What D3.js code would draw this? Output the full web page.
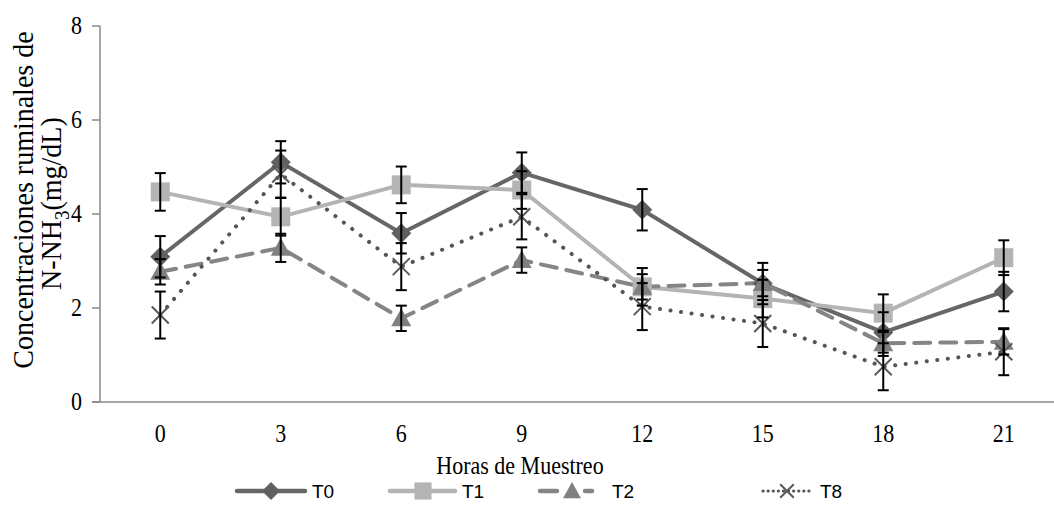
<!DOCTYPE html>
<html>
<head>
<meta charset="utf-8">
<script src="https://cdn.jsdelivr.net/npm/d3@7"></script>
<style>
  body { margin: 0; background: #fff; }
  svg { display: block; }
</style>
</head>
<body>
<svg id="chart" width="1054" height="529"></svg>
<script>
const hours = [0, 3, 6, 9, 12, 15, 18, 21]
const t0 = [3.09, 5.10, 3.59, 4.88, 4.09, 2.52, 1.48, 2.35]
const t1 = [4.47, 3.94, 4.62, 4.51, 2.45, 2.20, 1.89, 3.07]
const t2 = [2.77, 3.28, 1.78, 3.02, 2.45, 2.53, 1.25, 1.28]
const t8 = [1.85, 4.85, 2.88, 3.94, 2.03, 1.67, 0.75, 1.07]
const t0Err = [0.44, 0.45, 0.43, 0.43, 0.44, 0.44, 0.43, 0.42]
const t1Err = [0.40, 0.40, 0.39, 0.40, 0.40, 0.40, 0.40, 0.37]
const t2Err = [0.27, 0.30, 0.27, 0.27, 0.27, 0.28, 0.27, 0.27]
const t8Err = [0.50, 0.50, 0.50, 0.48, 0.50, 0.50, 0.50, 0.50]
const yTicks = [0, 2, 4, 6, 8]
const seriesNames = ['T0', 'T1', 'T2', 'T8']

const series = [
  { name: seriesNames[0], values: t0, err: t0Err, color: '#666666', marker: '#606060', symbol: 'diamond', dash: null, width: 4,
    leg: { x1: 237, x2: 305, m: 271, tx: 312, dash: null } },
  { name: seriesNames[1], values: t1, err: t1Err, color: '#b4b4b4', marker: '#b4b4b4', symbol: 'square', dash: null, width: 4,
    leg: { x1: 390, x2: 455, m: 423, tx: 462, dash: null } },
  { name: seriesNames[2], values: t2, err: t2Err, color: '#858585', marker: '#808080', symbol: 'triangle', dash: '16,10', width: 4,
    leg: { x1: 540, x2: 592, m: 572, tx: 612, dash: '17,28' } },
  { name: seriesNames[3], values: t8, err: t8Err, color: '#555555', marker: '#595959', symbol: 'x', dash: '0.1,10.5', width: 4,
    leg: { x1: 763, x2: 813, m: 787, tx: 820, dash: '0.1,5' } }
]

const svg = d3.select('#chart')
const axisColor = '#898989'
const serif = '"Liberation Serif", "Times New Roman", serif'

const x = d3.scaleBand().domain(hours).range([100, 1064]).padding(0)
const cx = h => x(h) + x.bandwidth() / 2
const y = d3.scaleLinear().domain([0, 8]).range([402, 26])

// axes
svg.append('line')
  .attr('x1', 100).attr('x2', 100).attr('y1', y(8)).attr('y2', y(0))
  .attr('stroke', axisColor).attr('stroke-width', 1.5)
svg.append('line')
  .attr('x1', 92).attr('x2', 1054).attr('y1', y(0)).attr('y2', y(0))
  .attr('stroke', axisColor).attr('stroke-width', 1.5)

svg.selectAll('.ytick')
  .data(yTicks)
  .enter()
  .append('line')
  .attr('x1', 92).attr('x2', 100)
  .attr('y1', d => y(d)).attr('y2', d => y(d))
  .attr('stroke', axisColor).attr('stroke-width', 1.5)

svg.selectAll('.ylab')
  .data(yTicks)
  .enter()
  .append('text')
  .attr('transform', d => `translate(82,${y(d) + 8}) scale(1,1.12)`)
  .attr('text-anchor', 'end')
  .style('font-family', serif)
  .style('font-size', '22px')
  .text(d => d)

svg.selectAll('.xlab')
  .data(hours)
  .enter()
  .append('text')
  .attr('transform', d => `translate(${cx(d)},442) scale(1,1.12)`)
  .attr('text-anchor', 'middle')
  .style('font-family', serif)
  .style('font-size', '22px')
  .text(d => d)

svg.append('text')
  .attr('transform', 'translate(520,474) scale(1,1.15)')
  .attr('text-anchor', 'middle')
  .style('font-family', serif)
  .style('font-size', '22px')
  .text('Horas de Muestreo')

// y title (two lines, rotated)
const yt = svg.append('g')
  .style('font-family', serif)
  .style('font-size', '28px')
yt.append('text')
  .attr('transform', 'translate(33,200) rotate(-90) scale(1,1.08)')
  .attr('text-anchor', 'middle')
  .text('Concentraciones ruminales de')
const l2 = yt.append('text')
  .attr('transform', 'translate(61,290) rotate(-90) scale(1,1.08)')
l2.append('tspan').text('N-NH')
l2.append('tspan').attr('dy', 7).style('font-size', '19px').text('3')
l2.append('tspan').attr('dy', -7).text('(mg/dL)')

// symbols
function drawSymbol(g, type, color, size) {
  const s = size / 2
  if (type === 'diamond') {
    g.append('path').attr('d', `M0,${-s}L${s},0L0,${s}L${-s},0Z`).attr('fill', color)
  } else if (type === 'square') {
    const q = s * 0.95
    g.append('rect').attr('x', -q).attr('y', -q).attr('width', 2 * q).attr('height', 2 * q).attr('fill', color)
  } else if (type === 'triangle') {
    g.append('path').attr('d', `M0,${-s}L${s},${s * 0.8}L${-s},${s * 0.8}Z`).attr('fill', color)
  } else {
    const q = s * 0.85
    g.append('path').attr('d', `M${-q},${-q}L${q},${q}M${-q},${q}L${q},${-q}`)
      .attr('stroke', color).attr('stroke-width', 2).attr('fill', 'none')
  }
}

const line = d3.line().x((d, i) => cx(hours[i])).y(d => y(d))

series.forEach(s => {
  svg.append('path')
    .datum(s.values)
    .attr('d', line)
    .attr('fill', 'none')
    .attr('stroke', s.color)
    .attr('stroke-width', s.width)
    .attr('stroke-linecap', 'round')
    .attr('stroke-dasharray', s.dash)
})

series.forEach(s => {
  s.values.forEach((v, i) => {
    const g = svg.append('g').attr('transform', `translate(${cx(hours[i])},${y(v)})`)
    drawSymbol(g, s.symbol, s.marker, 20)
  })
})

// error bars
series.forEach(s => {
  s.values.forEach((v, i) => {
    const px = cx(hours[i])
    const top = y(v + s.err[i]), bot = y(v - s.err[i])
    const g = svg.append('g').attr('stroke', '#000').attr('stroke-width', 2)
    g.append('line').attr('x1', px).attr('x2', px).attr('y1', top).attr('y2', bot)
    g.append('line').attr('x1', px - 5.5).attr('x2', px + 5.5).attr('y1', top).attr('y2', top)
    g.append('line').attr('x1', px - 5.5).attr('x2', px + 5.5).attr('y1', bot).attr('y2', bot)
  })
})

// legend
const legend = svg.append('g')
const ly = 491
series.forEach(s => {
  legend.append('line')
    .attr('x1', s.leg.x1).attr('x2', s.leg.x2).attr('y1', ly).attr('y2', ly)
    .attr('stroke', s.color).attr('stroke-width', s.symbol === 'x' ? 3.2 : 4.5)
    .attr('stroke-linecap', 'round')
    .attr('stroke-dasharray', s.leg.dash)
  const g = legend.append('g').attr('transform', `translate(${s.leg.m},${ly})`)
  drawSymbol(g, s.symbol, s.marker, s.symbol === 'x' ? 16 : 18)
  legend.append('text')
    .attr('x', s.leg.tx).attr('y', ly + 7)
    .style('font-family', '"Liberation Sans", Arial, sans-serif')
    .style('font-size', '19px')
    .text(s.name)
})
</script>
</body>
</html>
